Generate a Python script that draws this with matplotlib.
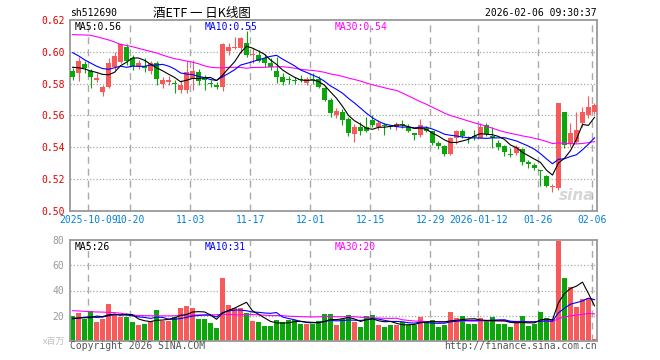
import matplotlib
matplotlib.use('Agg')
import matplotlib.pyplot as plt
import numpy as np
import pandas as pd

# ---- data (daily candles, 2025-09-26 .. 2026-02-06) ----
opens = [0.588, 0.5865, 0.5923, 0.588, 0.5825, 0.575, 0.578, 0.5906, 0.5938, 0.603,
         0.5959, 0.591, 0.591, 0.5881, 0.5928, 0.5797, 0.581, 0.5805, 0.576, 0.576,
         0.5833, 0.5875, 0.5835, 0.5805, 0.5791, 0.578, 0.6007, 0.6022, 0.6022, 0.6057,
         0.598, 0.598, 0.5959, 0.5932, 0.5881, 0.584, 0.5826, 0.5823, 0.5826, 0.5802,
         0.583, 0.5829, 0.5771, 0.5697, 0.5603, 0.5623, 0.5576, 0.5484, 0.5529, 0.5526,
         0.5571, 0.5529, 0.5537, 0.553, 0.5526, 0.5546, 0.5529, 0.5492, 0.5477, 0.5519,
         0.5504, 0.5429, 0.5408, 0.5356, 0.546, 0.5502, 0.5463, 0.547, 0.546, 0.554,
         0.5473, 0.5425, 0.541, 0.5358, 0.5362, 0.5387, 0.5302, 0.5289, 0.5255, 0.522,
         0.515, 0.5143, 0.5624, 0.5421, 0.5435, 0.5551, 0.5603, 0.5624]
highs = [0.590, 0.5969, 0.5942, 0.589, 0.5866, 0.5791, 0.596, 0.5999, 0.6057, 0.6047,
         0.5978, 0.5948, 0.596, 0.594, 0.594, 0.5843, 0.5848, 0.5822, 0.5822, 0.594,
         0.595, 0.589, 0.5855, 0.5822, 0.581, 0.6057, 0.6057, 0.6091, 0.6095, 0.6132,
         0.6022, 0.6011, 0.5985, 0.596, 0.5969, 0.5866, 0.5846, 0.584, 0.5855, 0.584,
         0.587, 0.5846, 0.578, 0.571, 0.5647, 0.564, 0.5592, 0.5546, 0.556, 0.5592,
         0.5603, 0.5571, 0.555, 0.554, 0.556, 0.5571, 0.5544, 0.5492, 0.5578, 0.5536,
         0.5504, 0.544, 0.5414, 0.5467, 0.551, 0.5513, 0.5473, 0.5509, 0.5551, 0.5551,
         0.5529, 0.5446, 0.5414, 0.5394, 0.5414, 0.5394, 0.532, 0.530, 0.526, 0.5226,
         0.517, 0.568, 0.5624, 0.5551, 0.5624, 0.5655, 0.5722, 0.5677]
lows = [0.582, 0.5818, 0.587, 0.577, 0.581, 0.5724, 0.577, 0.5885, 0.5929, 0.592,
        0.5885, 0.5895, 0.5875, 0.5862, 0.579, 0.5771, 0.579, 0.5739, 0.5741, 0.5741,
        0.576, 0.579, 0.576, 0.578, 0.5765, 0.5755, 0.598, 0.6017, 0.599, 0.597,
        0.5928, 0.5935, 0.5905, 0.5885, 0.5802, 0.579, 0.5796, 0.580, 0.581, 0.579,
        0.580, 0.5771, 0.569, 0.559, 0.5582, 0.554, 0.5471, 0.5435, 0.548, 0.5498,
        0.5529, 0.5508, 0.5475, 0.5515, 0.5508, 0.5523, 0.5496, 0.5446, 0.5464, 0.5498,
        0.5414, 0.539, 0.5347, 0.535, 0.5421, 0.546, 0.5425, 0.5446, 0.5457, 0.547,
        0.5398, 0.5383, 0.5347, 0.534, 0.535, 0.5289, 0.5268, 0.5257, 0.5157, 0.5149,
        0.5117, 0.513, 0.5394, 0.5404, 0.5425, 0.5529, 0.5582, 0.5609]
closes = [0.584, 0.5942, 0.5896, 0.584, 0.5835, 0.5779, 0.593, 0.5973, 0.6047, 0.5945,
          0.5913, 0.5928, 0.590, 0.5928, 0.5828, 0.5822, 0.582, 0.580, 0.5791, 0.5875,
          0.5879, 0.5816, 0.5825, 0.580, 0.5777, 0.6047, 0.6032, 0.6028, 0.6088, 0.598,
          0.5988, 0.594, 0.5928, 0.5907, 0.5844, 0.5812, 0.582, 0.5818, 0.5822, 0.5829,
          0.5825, 0.5777, 0.5697, 0.5613, 0.563, 0.5571, 0.5492, 0.5529, 0.5502, 0.5504,
          0.554, 0.5554, 0.5533, 0.5527, 0.5546, 0.554, 0.5502, 0.5477, 0.554, 0.5502,
          0.5425, 0.5408, 0.5358, 0.546, 0.5502, 0.5473, 0.5458, 0.5467, 0.5529, 0.5482,
          0.546, 0.5404, 0.5373, 0.5354, 0.540, 0.531, 0.5298, 0.5268, 0.525, 0.5157,
          0.5155, 0.568, 0.5414, 0.5492, 0.5509, 0.5624, 0.5651, 0.5666]
# volume, millions
volumes = [19.8, 22.4, 17.7, 23.5, 15.3, 17.4, 29.6, 20.6, 19.3, 19.3,
           15.3, 12.7, 13.7, 15.8, 24.6, 16.1, 15.8, 18.7, 26.4, 27.7,
           26.1, 17.4, 17.4, 14.5, 10.6, 50.2, 28.5, 26.4, 26.1, 22.2,
           16.1, 15.3, 11.9, 12.1, 16.6, 14.8, 16.6, 16.6, 13.5, 13.5,
           13.5, 15.8, 21.1, 21.4, 12.7, 17.4, 20.6, 15.3, 11.4, 20.1,
           20.6, 12.7, 11.4, 12.7, 12.7, 14.8, 12.7, 12.7, 19.3, 15.8,
           16.6, 11.4, 12.7, 23.0, 18.0, 20.1, 13.5, 13.5, 18.0, 16.1,
           19.0, 13.5, 13.5, 11.4, 14.8, 20.1, 12.1, 13.5, 23.0, 18.0,
           17.4, 79.5, 50.2, 43.0, 27.2, 33.3, 34.3, 1.6]

# moving-average values at the left edge (history before the first candle)
ma5_head = [0.5903, 0.5900, 0.5893, 0.5880]
ma10_head = [0.5995, 0.5975, 0.5950, 0.5930, 0.5910, 0.5895, 0.5890, 0.5900, 0.5910]
ma30_head = [0.6108, 0.6107, 0.6106, 0.6104, 0.6095, 0.6085, 0.6075, 0.6062, 0.6047, 0.6040,
             0.6032, 0.6022, 0.6012, 0.6003, 0.5993, 0.5980, 0.5968, 0.5957, 0.5950, 0.5942,
             0.5935, 0.5925, 0.5912, 0.5903, 0.5900, 0.5900, 0.5902, 0.5903, 0.5902]
vma5_head = [18.0, 18.2, 18.4, 18.5]
vma10_head = [17.5, 18.2, 18.8, 19.3, 18.6, 19.0, 20.0, 20.8, 20.8]
vma30_head = [24.0, 23.8, 23.5, 23.2, 23.0, 22.9, 22.7, 22.5, 22.0, 21.2,
              20.6, 20.2, 20.1, 20.0, 20.0, 19.9, 19.9, 20.0, 20.2, 20.4,
              20.6, 20.6, 20.6, 20.7, 20.8, 21.1, 21.0, 20.8, 20.6]

date_idx = [3, 10, 20, 30, 40, 50, 60, 68, 78, 87]
date_labels = ['2025-10-09', '10-20', '11-03', '11-17', '12-01', '12-15',
               '12-29', '2026-01-12', '01-26', '02-06']
price_ticks = [0.50, 0.52, 0.54, 0.56, 0.58, 0.60, 0.62]
vol_ticks = [20, 40, 60, 80]


def moving_avg(values, n, head):
    s = pd.Series(values).rolling(n).mean().to_numpy()
    s[:len(head)] = head
    return s


RED = '#f65a5a'
GREEN = '#0aa60a'
GRID = '#aaaaaa'
MONO = 'DejaVu Sans Mono'
CJK = ['Noto Sans CJK SC', 'DejaVu Sans']

W, H = 660, 360
fig = plt.figure(figsize=(W / 100, H / 100), dpi=100, facecolor='white')


def rect(x0, y0, x1, y1):
    return [x0 / W, 1 - y1 / H, (x1 - x0) / W, (y1 - y0) / H]


ax = fig.add_axes(rect(70, 20, 597, 211))
axv = fig.add_axes(rect(70, 240, 597, 341))

n = len(closes)
x = np.arange(n)
o = np.array(opens); c = np.array(closes)
hi = np.array(highs); lo = np.array(lows)
up = c >= o
cols = np.where(up, RED, GREEN)
xlim = (-0.42, 87.42)

for a in (ax, axv):
    a.set_xlim(*xlim)
    for g in date_idx:
        a.axvline(g - 0.37, color=GRID, lw=1.0, ls=(0, (5, 3.6)), zorder=0)
    for s in a.spines.values():
        s.set_color('#999999')
        s.set_linewidth(1.3)
    a.tick_params(length=0)

# ---- price panel ----
ax.set_ylim(0.50, 0.62)
for t in price_ticks[1:-1]:
    ax.axhline(t, color=GRID, lw=0.9, ls=(0, (1, 1.6)), zorder=0)
ax.vlines(x, lo, hi, colors=cols, lw=0.8, zorder=2)
body = np.maximum(np.abs(c - o), 0.0007)
ax.bar(x, body, bottom=np.minimum(o, c), width=0.8, color=cols, linewidth=0, zorder=3)

ax.plot(x, moving_avg(closes, 30, ma30_head), color='#ff00ff', lw=0.8, zorder=4)
ax.plot(x, moving_avg(closes, 10, ma10_head), color='#0000ff', lw=0.8, zorder=4)
ax.plot(x, moving_avg(closes, 5, ma5_head), color='#000000', lw=0.8, zorder=4)

ax.set_yticks(price_ticks)
ax.set_yticklabels(['%.2f' % t for t in price_ticks], color='#e00000',
                   fontfamily=MONO, fontsize=7)
ax.tick_params(axis='y', pad=4)
ax.set_xticks([g - 0.37 for g in date_idx])
ax.set_xticklabels(date_labels, color='#0080d8', fontfamily=MONO, fontsize=7)
ax.tick_params(axis='x', pad=3)

ax.text(0.995, 0.04, 'sina', transform=ax.transAxes, ha='right', va='bottom',
        fontsize=11, fontweight='bold', fontstyle='italic', color='#d6d6d6', zorder=1)

# ---- volume panel ----
axv.set_ylim(0, 80)
for t in vol_ticks[:-1]:
    axv.axhline(t, color=GRID, lw=0.9, ls=(0, (1, 1.6)), zorder=0)
axv.bar(x, volumes, width=0.8, color=cols, linewidth=0, zorder=2)
axv.plot(x, moving_avg(volumes, 30, vma30_head), color='#ff00ff', lw=0.8, zorder=4)
axv.plot(x, moving_avg(volumes, 10, vma10_head), color='#0000ff', lw=0.8, zorder=4)
axv.plot(x, moving_avg(volumes, 5, vma5_head), color='#000000', lw=0.8, zorder=4)
axv.set_yticks(vol_ticks)
axv.set_yticklabels([str(t) for t in vol_ticks], color='#999999', fontfamily=MONO, fontsize=7)
axv.tick_params(axis='y', pad=4)
axv.set_xticks([])


def ftext(px, py, s, **kw):
    fig.text(px / W, 1 - py / H, s, **kw)


ftext(70, 13, 'sh512690', fontfamily=MONO, fontsize=7, va='center', ha='left')
ftext(202, 13, '酒ETF 一 日K线图', family=CJK, fontsize=9, va='center', ha='center')
ftext(597, 13, '2026-02-06 09:30:37', fontfamily=MONO, fontsize=7, va='center', ha='right')

ftext(75, 26.5, 'MA5:0.56', fontfamily=MONO, fontsize=7, va='center', color='black')
ftext(205, 26.5, 'MA10:0.55', fontfamily=MONO, fontsize=7, va='center', color='#0000ff')
ftext(335, 26.5, 'MA30:0.54', fontfamily=MONO, fontsize=7, va='center', color='#ff00ff')

ftext(75, 247, 'MA5:26', fontfamily=MONO, fontsize=7, va='center', color='black')
ftext(205, 247, 'MA10:31', fontfamily=MONO, fontsize=7, va='center', color='#0000ff')
ftext(335, 247, 'MA30:20', fontfamily=MONO, fontsize=7, va='center', color='#ff00ff')

ftext(65, 341, 'x百万', family=CJK, fontsize=6.5, va='center', ha='right', color='#c0c0c0')
ftext(70, 346, 'Copyright 2026 SINA.COM', fontfamily=MONO, fontsize=7, va='center',
      ha='left', color='#555555')
ftext(597, 346, 'http://finance.sina.com.cn', fontfamily=MONO, fontsize=7, va='center',
      ha='right', color='#555555')

fig.savefig('out.png', dpi=100, facecolor='white')
